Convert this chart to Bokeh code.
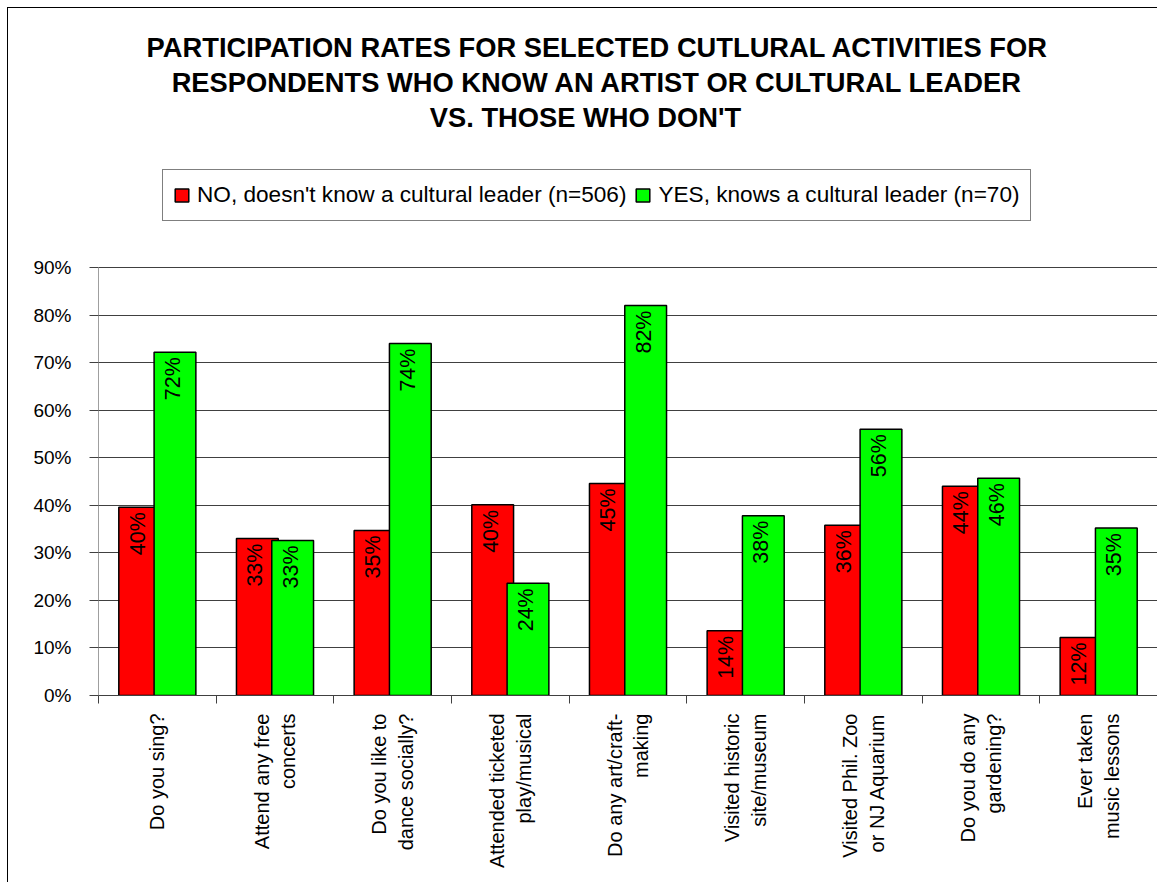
import math
from bokeh.plotting import figure
from bokeh.models import (ColumnDataSource, FixedTicker, NumeralTickFormatter,
                          Legend, LegendItem, Range1d, Label)
from bokeh.core.properties import value
from bokeh.embed import file_html
from bokeh.resources import INLINE

# ---------------- data ----------------
categories = [
    "Do you sing?",
    "Attend any free\nconcerts",
    "Do you like to\ndance socially?",
    "Attended ticketed\nplay/musical",
    "Do any art/craft-\nmaking",
    "Visited historic\nsite/museum",
    "Visited Phil. Zoo\nor NJ Aquarium",
    "Do you do any\ngardening?",
    "Ever taken\nmusic lessons",
]
no_values = [0.396, 0.330, 0.347, 0.401, 0.446, 0.136, 0.358, 0.440, 0.122]
yes_values = [0.722, 0.326, 0.740, 0.236, 0.820, 0.378, 0.560, 0.457, 0.352]
series_names = ["NO, doesn't know a cultural leader (n=506)",
                "YES, knows a cultural leader (n=70)"]
series_colors = ["#FF0000", "#00FF00"]
y_ticks = [0.0, 0.1, 0.2, 0.3, 0.4, 0.5, 0.6, 0.7, 0.8, 0.9]
title_lines = ["PARTICIPATION RATES FOR SELECTED CUTLURAL ACTIVITIES FOR",
               "RESPONDENTS WHO KNOW AN ARTIST OR CULTURAL LEADER",
               "VS. THOSE WHO DON'T"]

FONT = "Liberation Sans"

# ---------------- layout constants (pixels) ----------------
W, H = 1150, 875
B_LEFT, B_RIGHT, B_BOTTOM = 90, 1, 188
FRAME_H = H - B_BOTTOM            # frame spans whole top area
PLOT_H = 428                      # pixel height of the 0..90% plot area
Y_MAX = y_ticks[-1]

n = len(categories)
centers = [i + 0.5 for i in range(n)]


def pct(v):
    return "%d%%" % int(math.floor(v * 100 + 0.5))


src_no = ColumnDataSource(dict(x=[c - 0.15 for c in centers], top=no_values,
                               label=[pct(v) for v in no_values]))
src_yes = ColumnDataSource(dict(x=[c + 0.15 for c in centers], top=yes_values,
                                label=[pct(v) for v in yes_values]))

p = figure(width=W, height=H, output_backend="svg", toolbar_location=None,
           x_range=Range1d(0, n), y_range=Range1d(0, Y_MAX * FRAME_H / PLOT_H),
           min_border_left=B_LEFT, min_border_right=B_RIGHT, min_border_top=0,
           min_border_bottom=B_BOTTOM)
p.styles = {"margin-left": "7px", "margin-top": "7px",
            "border-left": "1px solid black", "border-top": "1px solid black"}

p.outline_line_color = None
p.background_fill_color = "white"
p.border_fill_color = "white"

# plot-area border (left axis line and right edge)
p.segment(x0=[0, n], y0=[0, 0], x1=[0, n], y1=[Y_MAX, Y_MAX],
          line_color=["#404040", "#808080"], line_width=1)

r_no = p.vbar(x="x", top="top", width=0.355, bottom=0, source=src_no,
              fill_color=series_colors[0], line_color="black", line_width=1.5)
r_yes = p.vbar(x="x", top="top", width=0.355, bottom=0, source=src_yes,
               fill_color=series_colors[1], line_color="black", line_width=1.5)

for s in (src_no, src_yes):
    p.text(x="x", y="top", text="label", source=s, angle=math.pi / 2,
           text_align="right", text_baseline="middle", y_offset=5, x_offset=-2,
           text_font=value(FONT), text_font_size="21.5px", text_color="black")

# y axis
p.yaxis.ticker = FixedTicker(ticks=y_ticks)
p.yaxis.formatter = NumeralTickFormatter(format="0%")
p.yaxis.major_label_text_font = FONT
p.yaxis.major_label_text_font_size = "19px"
p.yaxis.major_label_text_color = "black"
p.yaxis.major_tick_in = 0
p.yaxis.major_tick_out = 9
p.yaxis.minor_tick_line_color = None
p.yaxis.axis_line_color = None
p.yaxis.major_tick_line_color = "#404040"
p.yaxis.major_label_standoff = 18

# x axis
p.xaxis.ticker = FixedTicker(ticks=centers, minor_ticks=list(range(n + 1)))
p.xaxis.major_label_overrides = {c: categories[i] for i, c in enumerate(centers)}
p.xaxis.major_label_orientation = math.pi / 2
p.xaxis.major_label_text_font = FONT
p.xaxis.major_label_text_font_size = "20px"
p.xaxis.major_label_text_color = "black"
p.xaxis.major_tick_line_color = None
p.xaxis.major_tick_in = 0
p.xaxis.major_tick_out = 0
p.xaxis.minor_tick_in = 0
p.xaxis.minor_tick_out = 8
p.xaxis.minor_tick_line_color = "#404040"
p.xaxis.axis_line_color = "#404040"
p.xaxis.major_label_standoff = 10

p.xgrid.grid_line_color = None
p.ygrid.ticker = FixedTicker(ticks=y_ticks)
p.ygrid.grid_line_color = "#404040"
p.ygrid.grid_line_width = 1

# title lines (screen px, relative to the frame's bottom-left corner)
title_cx = [499, 499, 487]
title_cy = [648, 613, 578]
for t, cx, cy in zip(title_lines, title_cx, title_cy):
    p.add_layout(Label(x=cx, y=cy, x_units="screen", y_units="screen", text=t,
                       text_align="center", text_baseline="middle",
                       text_font=FONT, text_font_style="bold",
                       text_font_size="27.3px", text_color="black"))

legend = Legend(items=[LegendItem(label=series_names[0], renderers=[r_no]),
                       LegendItem(label=series_names[1], renderers=[r_yes])],
                orientation="horizontal", location=(64, 474),
                label_text_font=FONT, label_text_font_size="22.6px",
                label_text_color="black",
                glyph_width=17, glyph_height=16, label_standoff=7,
                spacing=8, padding=10, margin=0, label_height=30,
                border_line_color="black", border_line_width=1,
                background_fill_alpha=1.0)
p.add_layout(legend, "center")

open("out.html", "w").write(file_html(p, INLINE))
